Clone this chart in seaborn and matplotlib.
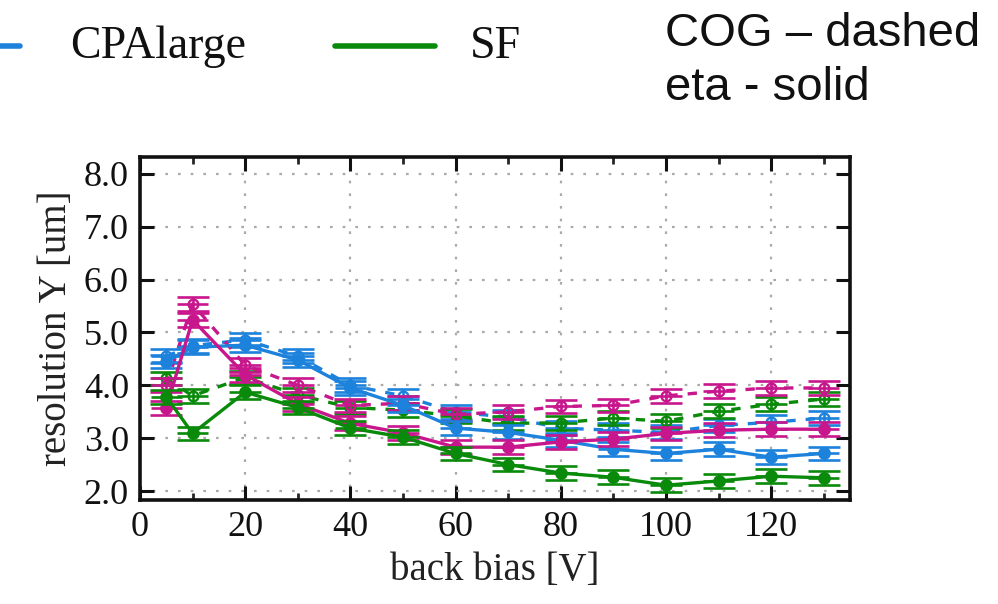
import matplotlib
matplotlib.use("Agg")
import matplotlib.pyplot as plt
from matplotlib.lines import Line2D
import numpy as np
import pandas as pd
import seaborn as sns

# back bias scan points [V]
bias = [5, 10, 20, 30, 40, 50, 60, 70, 80, 90, 100, 110, 120, 130]

# spatial resolution in Y [um]; "eta" = eta-corrected, "COG" = centre of gravity
cpalarge_eta = [4.45, 4.72, 4.76, 4.48, 3.95, 3.62, 3.19, 3.11, 2.96, 2.79, 2.71, 2.79, 2.64, 2.71]
cpalarge_cog = [4.55, 4.75, 4.86, 4.55, 4.00, 3.80, 3.49, 3.40, 3.19, 3.15, 3.11, 3.24, 3.30, 3.38]
sf_eta = [3.78, 3.09, 3.87, 3.58, 3.19, 3.02, 2.71, 2.50, 2.34, 2.26, 2.11, 2.19, 2.28, 2.25]
sf_cog = [4.13, 3.80, 4.15, 3.82, 3.58, 3.53, 3.42, 3.28, 3.29, 3.38, 3.32, 3.51, 3.64, 3.74]
cpasmall_eta = [3.57, 5.24, 4.20, 3.65, 3.28, 3.10, 2.83, 2.83, 2.93, 2.98, 3.09, 3.15, 3.17, 3.17]
cpasmall_cog = [4.00, 5.54, 4.38, 4.00, 3.62, 3.66, 3.45, 3.50, 3.60, 3.62, 3.80, 3.89, 3.95, 3.95]

# uncertainties
bias_err = [3.0] * len(bias)
res_err = [0.13] * len(bias)

colors = {"CPAsmall": "#c8168c", "CPAlarge": "#1c82dc", "SF": "#0a8a0a"}
series = {
    ("CPAsmall", "eta"): cpasmall_eta,
    ("CPAsmall", "COG"): cpasmall_cog,
    ("CPAlarge", "eta"): cpalarge_eta,
    ("CPAlarge", "COG"): cpalarge_cog,
    ("SF", "eta"): sf_eta,
    ("SF", "COG"): sf_cog,
}

rows = []
for (det, method), vals in series.items():
    for b, v in zip(bias, vals):
        rows.append({"bias": b, "res": v, "detector": det, "method": method})
df = pd.DataFrame(rows)

sns.set_style("ticks")
plt.rcParams["font.family"] = ["Liberation Serif", "DejaVu Serif"]

W, H = 998, 604
fig = plt.figure(figsize=(W / 100, H / 100), dpi=100)
ax = fig.add_axes([140 / W, 1 - 500 / H, 710 / W, 343 / H])

order = [("CPAlarge", "COG"), ("SF", "COG"), ("CPAsmall", "COG"),
         ("CPAlarge", "eta"), ("CPAsmall", "eta"), ("SF", "eta")]
for det, method in order:
    sub = df[(df.detector == det) & (df.method == method)]
    c = colors[det]
    dashed = method == "COG"
    sns.lineplot(data=sub, x="bias", y="res", ax=ax, color=c, lw=2.4,
                 linestyle=(0, (2.8, 3.0)) if dashed else "-",
                 marker="o", markersize=7.5 if not dashed else 7,
                 markerfacecolor="none" if dashed else c,
                 markeredgecolor=c, markeredgewidth=1.7,
                 legend=False, estimator=None, sort=False)
    # horizontal (bias) error: plain bar, no end caps
    ax.errorbar(sub["bias"], sub["res"], xerr=bias_err,
                fmt="none", ecolor=c, elinewidth=1.9, capsize=0)
    # vertical (resolution) error: wide flat caps
    ax.errorbar(sub["bias"], sub["res"], yerr=res_err,
                fmt="none", ecolor=c, elinewidth=1.9, capsize=11.5, capthick=1.9)

ax.set_xlim(0, 135)
ax.set_ylim(1.83, 8.32)
ax.set_xticks([0, 20, 40, 60, 80, 100, 120])
ax.set_xticks(np.arange(10, 135, 20), minor=True)
ax.set_yticks([2, 3, 4, 5, 6, 7, 8])
ax.set_yticklabels(["2.0", "3.0", "4.0", "5.0", "6.0", "7.0", "8.0"])
ax.grid(True, which="major", color="#aaaaaa", linestyle=(0, (1.2, 4.5)), lw=1.6)
ax.tick_params(which="major", direction="in", length=10, width=2.2,
               top=True, right=True, labelsize=26, pad=8, colors="#111111")
ax.tick_params(which="minor", direction="in", length=5, width=2.0,
               top=True, right=True)
for s in ax.spines.values():
    s.set_linewidth(2.6)
    s.set_color("#111111")
ax.set_xlabel("back bias [V]", fontsize=28, labelpad=6, color="#222222")
ax.set_ylabel("resolution Y [um]", fontsize=28, labelpad=6, color="#222222")

# legend strip along the top edge (first entry runs off the left border)
legend_items = [("CPAlarge", -80, 70), ("SF", 335, 470)]
for det, x0, xt in legend_items:
    fig.add_artist(Line2D([x0 / W, (x0 + 100) / W], [1 - 46 / H, 1 - 46 / H],
                          transform=fig.transFigure, color=colors[det], lw=4))
    fig.text(xt / W, 1 - 47 / H, det, fontsize=33, va="center",
             ha="left", color="#111111")

fig.text(665 / W, 1 - 34 / H, "COG \u2013 dashed", fontsize=34, va="center",
         ha="left", family=["Liberation Sans", "DejaVu Sans"], color="#111111")
fig.text(665 / W, 1 - 88 / H, "eta - solid", fontsize=34, va="center",
         ha="left", family=["Liberation Sans", "DejaVu Sans"], color="#111111")

fig.savefig("out.png", dpi=100)
